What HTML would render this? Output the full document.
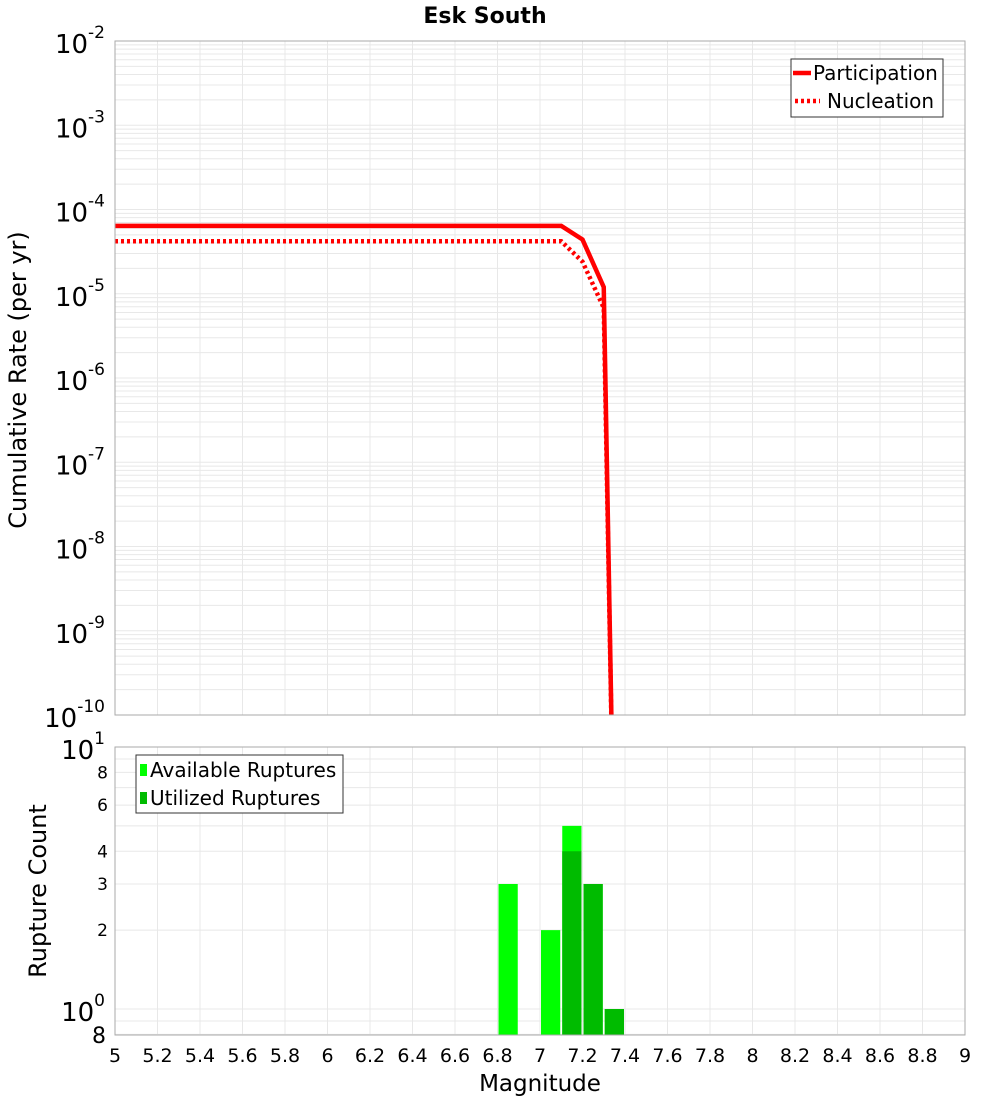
<!DOCTYPE html>
<html><head><meta charset="utf-8"><style>
body{margin:0;background:#fff;}
svg{display:block;font-family:"DejaVu Sans","Liberation Sans",sans-serif;}
</style></head><body>
<svg id="c" width="1000" height="1100" xmlns="http://www.w3.org/2000/svg"></svg>
<script>
const partMags=[5,7.1,7.2,7.3,7.35];
const partRates=[6.4e-5,6.4e-5,4.4e-5,1.2e-5,1e-12];
const nuclMags=[5,7.1,7.2,7.3,7.35];
const nuclRates=[4.2e-5,4.2e-5,2.4e-5,6.8e-6,1e-12];
const binCenters=[6.85,7.05,7.15,7.25,7.35];
const availCounts=[3,2,5,3,1];
const utilCounts=[0,0,4,3,1];
const xTicks=[5,5.2,5.4,5.6,5.8,6,6.2,6.4,6.6,6.8,7,7.2,7.4,7.6,7.8,8,8.2,8.4,8.6,8.8,9];
const topExps=[-2,-3,-4,-5,-6,-7,-8,-9,-10];
const botTicks=[8,6,4,3,2];

const NS="http://www.w3.org/2000/svg";
const svg=document.getElementById('c');
function el(t,a,p){const e=document.createElementNS(NS,t);for(const k in a)e.setAttribute(k,a[k]);(p||svg).appendChild(e);return e;}
const X0=115,X1=965;
const x=m=>X0+(m-5)/4*(X1-X0);
const T0=41,T1=715;
const yT=v=>T0+(-2-Math.log10(v))*(T1-T0)/8;
const B0=747,B1=1035;
const yB=v=>1009-Math.log10(v)*262;

let g=el('g',{});


for(let e=-10;e<-2;e++)for(let k=1;k<10;k++){const y=yT(k*Math.pow(10,e));el('line',{x1:X0,x2:X1,y1:y,y2:y,stroke:'#e8e8e8','stroke-width':1},g);}
xTicks.forEach(t=>el('line',{x1:x(t),x2:x(t),y1:T0,y2:T1,stroke:'#e8e8e8'},g));
let g2=el('g',{});


[0.8,0.9,1,2,3,4,5,6,7,8,9].forEach(v=>{const y=yB(v);el('line',{x1:X0,x2:X1,y1:y,y2:y,stroke:'#e8e8e8'},g2);});
xTicks.forEach(t=>el('line',{x1:x(t),x2:x(t),y1:B0,y2:B1,stroke:'#e8e8e8'},g2));

const defs=el('defs',{});
const cp=el('clipPath',{id:'ct'},defs);el('rect',{x:X0,y:T0,width:X1-X0,height:T1-T0},cp);

function line(ms,rs,name,dash){const p=el('polyline',{points:ms.map((m,i)=>x(m)+','+yT(rs[i])).join(' '),fill:'none',stroke:'#ff0000','stroke-width':4.5,'clip-path':'url(#ct)'});
if(dash)p.setAttribute('stroke-dasharray','3,3');
}
line(nuclMags,nuclRates,'nucleation-line',true);
line(partMags,partRates,'participation-line',false);

const bw=(x(5.1)-x(5))-2;
binCenters.forEach((c,i)=>{
 const a=el('rect',{x:x(c)-bw/2,y:yB(availCounts[i]),width:bw,height:B1-yB(availCounts[i]),fill:'#00ff00'});
 
 if(utilCounts[i]>0){const u=el('rect',{x:x(c)-bw/2,y:yB(utilCounts[i]),width:bw,height:B1-yB(utilCounts[i]),fill:'#00bb00'});
 }
});

el('rect',{x:X0,y:T0,width:X1-X0,height:T1-T0,fill:'none',stroke:'#aaa'});
el('rect',{x:X0,y:B0,width:X1-X0,height:B1-B0,fill:'none',stroke:'#aaa'});

let t=el('text',{x:485,y:23,'text-anchor':'middle','font-size':22,'font-weight':'bold'});t.textContent='Esk South';


topExps.forEach(e=>{const y=yT(Math.pow(10,e));
 const tx=el('text',{x:105,y:y+12,'text-anchor':'end','font-size':26});
 
 tx.appendChild(document.createTextNode('10'));
 const s=el('tspan',{dy:-15,'font-size':17},tx);s.textContent=String(e);
});
let bt=el('text',{x:105,y:yB(10)+12,'text-anchor':'end','font-size':26});bt.textContent='10';
el('tspan',{dy:-15,'font-size':17},bt).textContent='1';
bt=el('text',{x:105,y:yB(1)+12,'text-anchor':'end','font-size':26});bt.textContent='10';
el('tspan',{dy:-15,'font-size':17},bt).textContent='0';
botTicks.forEach(v=>{const tx=el('text',{x:108,y:yB(v)+6,'text-anchor':'end','font-size':17});tx.textContent=String(v);
 });
const t8=el('text',{x:106,y:1043,'text-anchor':'end','font-size':22});t8.textContent='8';

xTicks.forEach(v=>{const tx=el('text',{x:x(v),y:1062,'text-anchor':'middle','font-size':19});tx.textContent=String(v);
 });

t=el('text',{x:540,y:1091,'text-anchor':'middle','font-size':23});t.textContent='Magnitude';

t=el('text',{x:0,y:0,'text-anchor':'middle','font-size':24,transform:'translate(26,380) rotate(-90)'});t.textContent='Cumulative Rate (per yr)';

t=el('text',{x:0,y:0,'text-anchor':'middle','font-size':24,transform:'translate(46,891) rotate(-90)'});t.textContent='Rupture Count';


let lg=el('g',{});
el('rect',{x:791,y:59,width:152,height:58,fill:'#fff',stroke:'#333'},lg);
el('line',{x1:793,x2:811,y1:73,y2:73,stroke:'#f00','stroke-width':4.5},lg);
el('line',{x1:795,x2:820,y1:101,y2:101,stroke:'#f00','stroke-width':4.5,'stroke-dasharray':'3,3'},lg);
el('text',{x:813,y:80,'font-size':20},lg).textContent='Participation';
el('text',{x:827,y:108,'font-size':20},lg).textContent='Nucleation';
lg=el('g',{});
el('rect',{x:136,y:755,width:207,height:58,fill:'#fff',stroke:'#333'},lg);
el('rect',{x:140,y:764,width:7,height:12,fill:'#00ff00'},lg);
el('rect',{x:140,y:792,width:7,height:12,fill:'#00bb00'},lg);
el('text',{x:150,y:777,'font-size':20},lg).textContent='Available Ruptures';
el('text',{x:150,y:805,'font-size':20},lg).textContent='Utilized Ruptures';
</script>
</body></html>
